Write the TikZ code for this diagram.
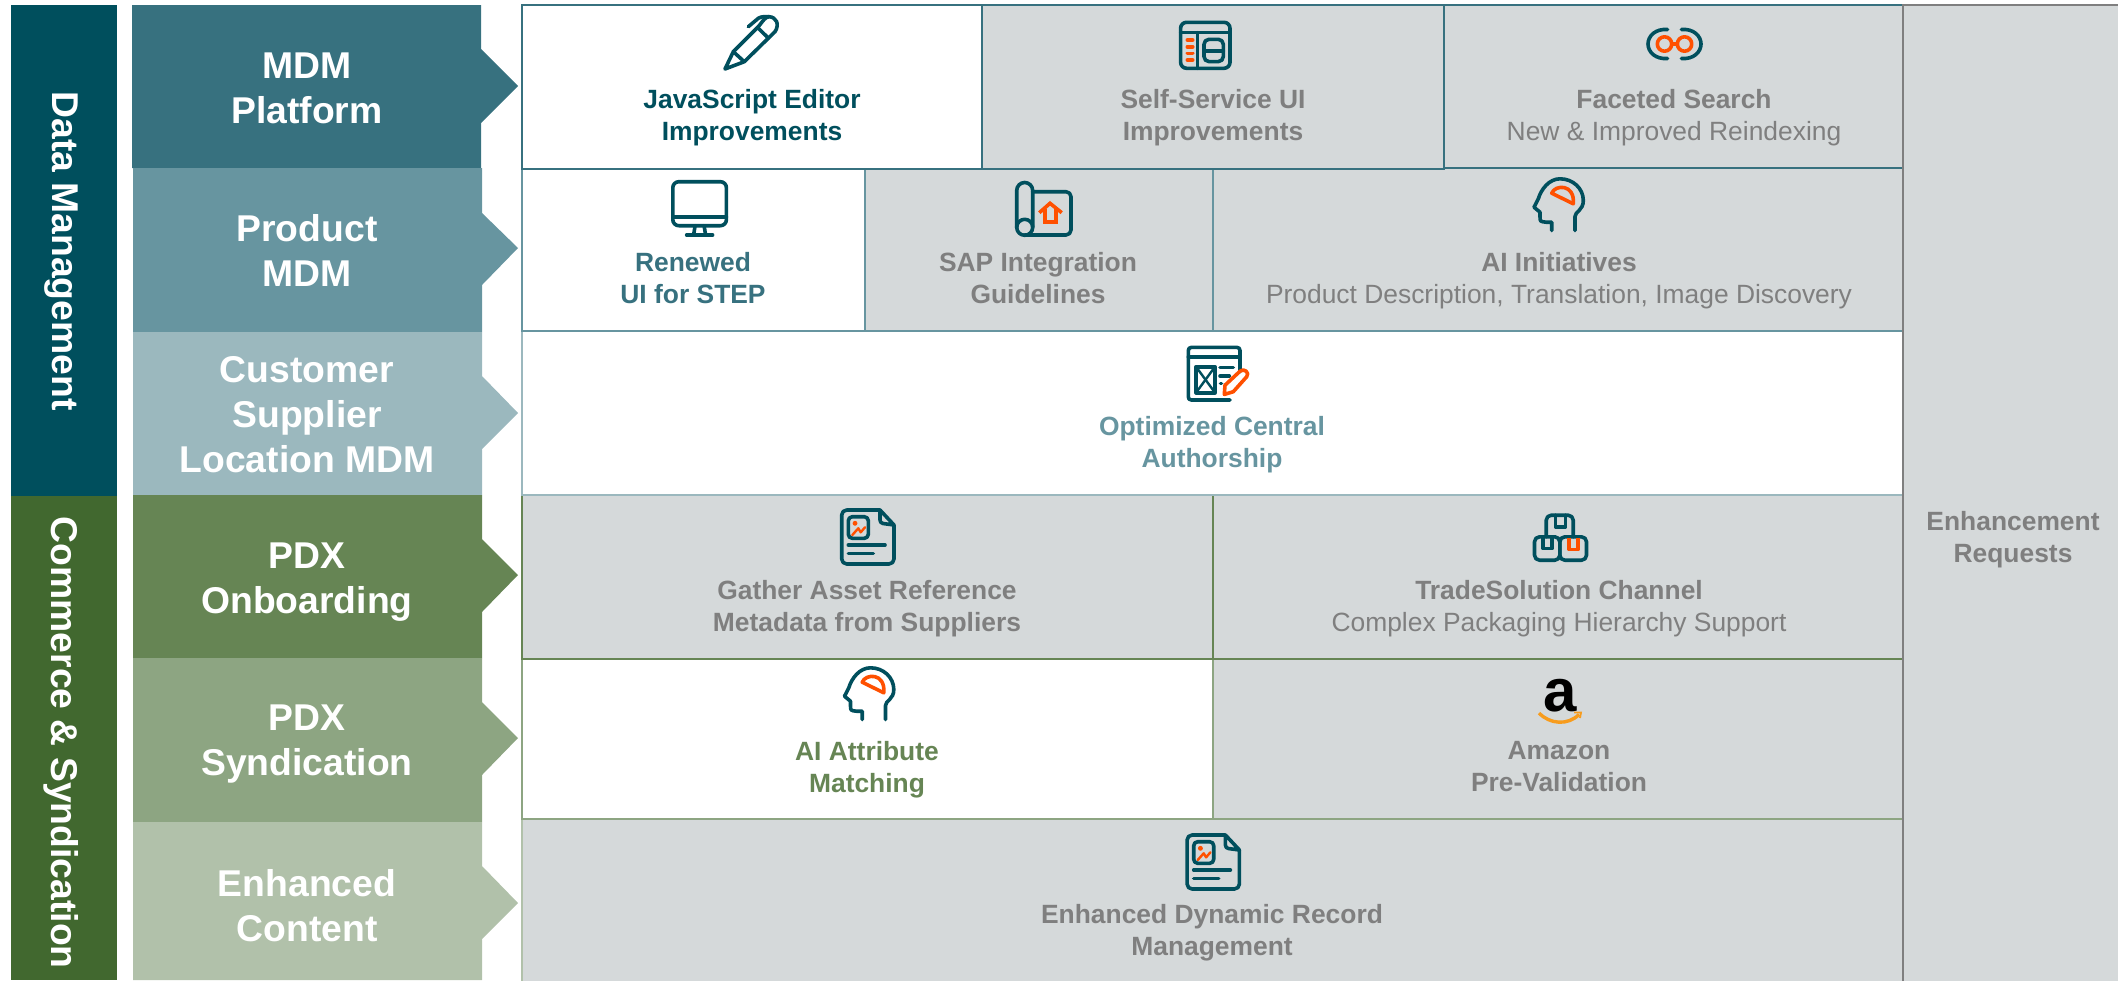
\documentclass[tikz,border=0pt]{standalone}
\usepackage{fontspec}
\setmainfont{Liberation Sans}
\definecolor{barteal}{HTML}{004F5D}
\definecolor{bargreen}{HTML}{41682F}
\definecolor{rowa}{HTML}{37717F}
\definecolor{rowb}{HTML}{6795A0}
\definecolor{rowc}{HTML}{9BB8BE}
\definecolor{rowd}{HTML}{668554}
\definecolor{rowe}{HTML}{8DA582}
\definecolor{rowf}{HTML}{B1C1AA}
\definecolor{cellgray}{HTML}{D5D9DA}
\definecolor{linegray}{HTML}{7F7F7F}
\definecolor{icondark}{HTML}{004F5D}
\definecolor{iconorange}{HTML}{FF5000}
\definecolor{smileorange}{HTML}{F79C1D}
\tikzset{
  bartext/.style={inner sep=0pt,text=white,rotate=-90,font=\bfseries\fontsize{18.65}{22}\selectfont},
  chevtext/.style={inner sep=0pt,text=white,align=center,font=\bfseries\fontsize{18.65}{22.5}\selectfont,execute at begin node=\strut,execute at end node=\strut},
  celltext/.style={inner sep=0pt,text=linegray,align=center,font=\bfseries\fontsize{13.2}{16}\selectfont,execute at begin node=\strut,execute at end node=\strut},
  cellbox/.style={line width=1.25pt},
  icon line/.style={draw=icondark,line width=1.8pt,line join=round,line cap=round},
  icon hot/.style={draw=iconorange,line width=1.8pt,line join=round,line cap=round},
  pen icon/.pic={
    \draw[icon line] (-26,26) -- (-17.7,8.7) -- (7.3,-16.3) .. controls (12,-22) and (14,-26) .. (18,-26.3) .. controls (25,-26) and (29,-19) .. (24,-11.3) -- (-6.7,18.7) -- cycle;
    \draw[icon line] (-17.7,8.7) -- (-6.7,18.7);
    \draw[icon line] (6.5,-15.5) -- (17.3,-5);
    \draw[icon line] (-2.7,-16.3) -- (7.3,-24.7) .. controls (10,-26.5) and (14,-26.5) .. (18,-26.3);
  },
  ui icon/.pic={
    \draw[icon line,rounded corners=3pt] (-24.7,-23) rectangle (24.7,23);
    \draw[icon line] (-24.7,-12.7) -- (24.7,-12.7);
    \draw[icon line] (-7.7,-12.7) -- (-7.7,23);
    \draw[icon line,rounded corners=2.5pt] (-1.3,-6) rectangle (18,16.3);
    \draw[icon line] (-1.3,5.4) -- (18,5.4);
    \draw[icon hot] (-18,-5.3) -- (-12.6,-5.3);
    \draw[icon hot] (-18,1.4) -- (-12.6,1.4);
    \draw[icon hot] (-18,8) -- (-12.6,8);
    \draw[icon hot] (-18,14.7) -- (-12.6,14.7);
  },
  search icon/.pic={
    \draw[icon line] (-7,-14.5) .. controls (-19,-15.5) and (-26.5,-8) .. (-26.5,0) .. controls (-26.5,8) and (-19,15.5) .. (-7,14.5);
    \draw[icon line] (7,-14.5) .. controls (19,-15.5) and (26.5,-8) .. (26.5,0) .. controls (26.5,8) and (19,15.5) .. (7,14.5);
    \draw[icon hot] (-10,0) circle (3.6pt);
    \draw[icon hot] (10,0) circle (3.6pt);
    \draw[icon hot] (-2.8,0) -- (2.8,0);
  },
  screen icon/.pic={
    \draw[icon line,rounded corners=3pt] (-26.8,-27.3) rectangle (26.8,16.7);
    \draw[icon line] (-26.8,7.7) -- (26.8,7.7);
    \draw[icon line] (-4.5,16.7) -- (-6,26);
    \draw[icon line] (4.5,16.7) -- (6,26);
    \draw[icon line] (-13,26) -- (13,26);
  },
  plan icon/.pic={
    \draw[icon line] (-27.3,18.3) -- (-27.3,-18.5) arc[start angle=180,end angle=360,radius=8] -- (-11.3,18.3);
    \draw[icon line] (-19.3,18.3) circle (4pt);
    \draw[icon line,rounded corners=2.5pt] (-11.3,-17.3) -- (27,-17.3) -- (27,26) -- (-19.3,26);
    \draw[icon hot,line cap=butt,line join=miter] (-4.7,3.7) -- (6,-5.7) -- (17.7,3.7);
    \draw[icon hot,line cap=butt,line join=miter] (1,0) -- (1,12.7) -- (11.7,12.7) -- (11.7,0);
  },
  head icon/.pic={
    \draw[icon line] (17,27) -- (17,13) .. controls (17,8) and (25.3,7) .. (25.3,-3) .. controls (25.3,-15) and (15,-24.7) .. (2,-24.7) .. controls (-9,-24.7) and (-17,-14) .. (-19.7,-4.7) -- (-24,3.7) -- (-18,8.7) -- (-18,13) .. controls (-18,18) .. (-12,18.7) -- (-6.3,18.7) -- (-6.3,27);
    \draw[icon hot] (-6.3,-10.3) .. controls (-3,-19) and (17,-20) .. (15.3,0.3) -- cycle;
  },
  authoring icon/.pic={
    \draw[icon line] (26,-2) -- (26,-23) .. controls (26,-25) and (25,-26.3) .. (23,-26.3) -- (-22.7,-26.3) .. controls (-24.7,-26.3) and (-25.7,-25) .. (-25.7,-23) -- (-25.7,23) .. controls (-25.7,25) and (-24.7,26.3) .. (-22.7,26.3) -- (16,26.3);
    \draw[icon line] (-25.7,-17) -- (26,-17);
    \draw[icon line] (-18,-7) rectangle (1,19);
    \draw[icon line,line width=1.2pt] (-18,-7) -- (1,19);
    \draw[icon line,line width=1.2pt] (1,-7) -- (-18,19);
    \draw[icon line] (6,-6.3) -- (19.3,-6.3);
    \draw[icon line] (6,2.3) -- (15.3,2.3);
    \draw[icon line] (6.5,9.7) -- (7.5,9.7);
    \draw[icon hot] (10.3,20.7) -- (11,11.5) -- (26,-2.5) .. controls (30,-6) and (36,-1) .. (32.7,3) -- (19.3,18) -- cycle;
  },
  doc icon/.pic={
    \draw[icon line,rounded corners=2.5pt] (12,-27) -- (-26.3,-27) -- (-26.3,27) -- (26,27) -- (26,-12);
    \draw[icon line] (12,-27) -- (26,-12) -- (15,-13.5) .. controls (13,-14) and (12,-15) .. (12,-17) -- cycle;
    \draw[icon line,rounded corners=2pt] (-19.7,-20.3) rectangle (0.3,1.3);
    \draw[iconorange,fill=iconorange] (-13,-13.7) circle (1pt);
    \draw[icon hot,line width=1.2pt] (-15.7,-2) -- (-9.7,-8.7) -- (-7.3,-4.7) -- (-3,-9.7);
    \draw[icon line] (-19.7,8) -- (17,8);
    \draw[icon line] (-19.7,16.3) -- (5.3,16.3);
  },
  boxes icon/.pic={
    \draw[icon line,rounded corners=2.5pt] (-14.3,-0.7) -- (-14.3,-22.3) -- (12.7,-22.3) -- (12.7,-0.7);
    \draw[icon line] (-5,-22.3) -- (-5,-10.7) -- (5,-10.7) -- (5,-22.3);
    \draw[icon line,rounded corners=2.5pt] (-26,-0.7) rectangle (-0.7,22.7);
    \draw[icon line] (-17.7,-0.7) -- (-17.7,11) -- (-8.3,11) -- (-8.3,-0.7);
    \draw[icon line,rounded corners=2.5pt] (-0.7,-0.7) rectangle (26,22.7);
    \draw[icon hot,line cap=butt] (8.3,0) -- (8.3,12) -- (17.7,12) -- (17.7,0);
  },
}
\begin{document}
\begin{tikzpicture}[x=0.5pt,y=-0.5pt]
  \useasboundingbox (0,0) rectangle (2118,980);
  % left bars
  \fill[barteal] (11,5) rectangle (117,496);
  \fill[bargreen] (11,496) rectangle (117,980);
  \node[bartext] (datamgmt) at (61,251) {Data Management};
  \node[bartext] (commerce) at (61,742.7) {Commerce \& Syndication};
  % chevrons
  \fill[rowa] (132,5) -- (481,5) -- (481,49) -- (518,86) -- (481,123) -- (481,168) -- (132,168) -- cycle;
  \fill[rowb] (133,168) -- (482,168) -- (482,213) -- (518,248) -- (482,285) -- (482,332) -- (133,332) -- cycle;
  \fill[rowc] (133,332) -- (482,332) -- (482,376) -- (518,413) -- (482,449) -- (482,495) -- (133,495) -- cycle;
  \fill[rowd] (133,495) -- (482,495) -- (482,539) -- (518,575) -- (482,612) -- (482,658) -- (133,658) -- cycle;
  \fill[rowe] (133,658) -- (482,658) -- (482,702) -- (518,738) -- (482,775) -- (482,822) -- (133,822) -- cycle;
  \fill[rowf] (133,822) -- (482,822) -- (482,866) -- (518,903) -- (482,939) -- (482,980) -- (133,980) -- cycle;
  \node[chevtext] (mdmplat) at (307,95.4) {MDM\\Platform};
  \node[chevtext] (prodmdm) at (307,257) {Product\\MDM};
  \node[chevtext] (custmdm) at (307,421) {Customer\\Supplier\\Location MDM};
  \node[chevtext] (onboard) at (307,584.7) {PDX\\Onboarding};
  \node[chevtext] (syndic) at (307,746.9) {PDX\\Syndication};
  \node[chevtext] (enhcont) at (307,912.1) {Enhanced\\Content};
  % cells, bottom row first
  \draw[cellbox,draw=rowf,fill=cellgray] (522,819) rectangle (1903,990);
  \draw[cellbox,draw=rowe,fill=white] (522,659) rectangle (1213,819);
  \draw[cellbox,draw=rowe,fill=cellgray] (1213,659) rectangle (1903,819);
  \draw[cellbox,draw=rowd,fill=cellgray] (522,495) rectangle (1213,659);
  \draw[cellbox,draw=rowd,fill=cellgray] (1213,495) rectangle (1903,659);
  \draw[cellbox,draw=rowc,fill=white] (522,331) rectangle (1903,495);
  \draw[cellbox,draw=rowb,fill=white] (522,168) rectangle (865,331);
  \draw[cellbox,draw=rowb,fill=cellgray] (865,168) rectangle (1213,331);
  \draw[cellbox,draw=rowb,fill=cellgray] (1213,168) rectangle (1903,331);
  \draw[cellbox,draw=rowa,fill=white] (522,5) rectangle (982,169);
  \draw[cellbox,draw=rowa,fill=cellgray] (982,5) rectangle (1444,169);
  \draw[cellbox,draw=rowa,fill=cellgray] (1444,5) rectangle (1903,168);
  \draw[cellbox,draw=linegray,fill=cellgray] (2130,5) -- (1903,5) -- (1903,990) -- (2130,990) -- cycle;
  % cell texts
  \node[celltext,text=barteal] (jsedit) at (752,120) {JavaScript Editor\\Improvements};
  \node[celltext] (selfui) at (1213,120) {Self-Service UI\\Improvements};
  \node[celltext] (facet) at (1674,120) {Faceted Search\\\mdseries New \& Improved Reindexing};
  \node[celltext,text=rowa] (renew) at (693,283) {Renewed\\UI for STEP};
  \node[celltext] (sapint) at (1038,283) {SAP Integration\\Guidelines};
  \node[celltext] (aiinit) at (1559,283) {AI Initiatives\\\mdseries Product Description, Translation, Image Discovery};
  \node[celltext,text=rowb] (central) at (1212,447) {Optimized Central\\Authorship};
  \node[celltext] (gather) at (867,610.7) {Gather Asset Reference\\Metadata from Suppliers};
  \node[celltext] (trade) at (1559,610.7) {TradeSolution Channel\\\mdseries Complex Packaging Hierarchy Support};
  \node[celltext,text=rowd] (aiattr) at (867,771.7) {AI Attribute\\Matching};
  \node[celltext] (amazon) at (1559,771.7) {Amazon\\Pre-Validation};
  \node[celltext] (dynrec) at (1212,934.7) {Enhanced Dynamic Record\\Management};
  \node[celltext] (enhreq) at (2013,541.7) {Enhancement\\Requests};
  % icons
  \pic at (751,43) {pen icon};
  \pic at (1205.3,45.3) {ui icon};
  \pic at (1674.5,44) {search icon};
  \pic at (699.6,209) {screen icon};
  \pic at (1044,209) {plan icon};
  \pic at (1558,203.5) {head icon};
  \pic at (1214,373.7) {authoring icon};
  \pic at (868,537) {doc icon};
  \pic at (1560.5,537.5) {boxes icon};
  \pic at (868.5,692.5) {head icon};
  \pic at (1213.4,862) {doc icon};
  % amazon logo
  \node[inner sep=0pt,text=black,font=\bfseries\fontsize{30}{30}\selectfont] (amzlogo) at (1559.7,695.5) {a};
  \draw[smileorange,line width=1.7pt] (1539,713) .. controls (1550,724.5) and (1568,725.5) .. (1579,714.5);
  \draw[smileorange,line width=0.9pt] (1574,712.5) -- (1581,712.5) -- (1580,718);
\end{tikzpicture}
\end{document}
